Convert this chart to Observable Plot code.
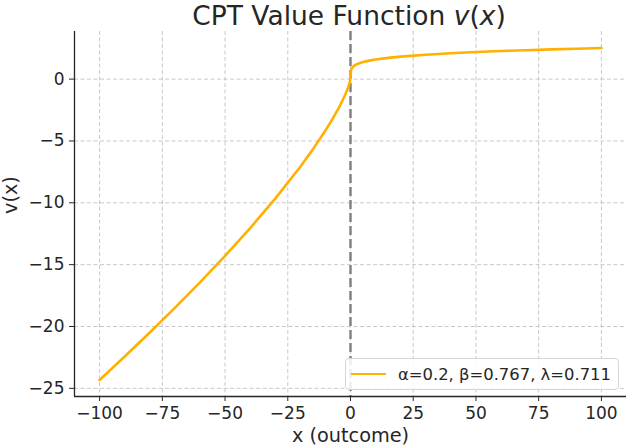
<!DOCTYPE html>
<html>
<head>
<meta charset="utf-8">
<script src="https://cdn.jsdelivr.net/npm/d3@7"></script>
<script src="https://cdn.jsdelivr.net/npm/@observablehq/plot@0.6"></script>
<style>
  html, body { margin: 0; padding: 0; background: #fff; }
  #wrap { position: relative; width: 628px; height: 448px; font-family: "DejaVu Sans", sans-serif; color: #262626; }
  #title { position: absolute; top: 3px; left: 73px; width: 552px; text-align: center; font-size: 26.5px; line-height: 26px; white-space: nowrap; }
  #legend { position: absolute; left: 345px; top: 358px; width: 274px; height: 32px; box-sizing: border-box;
            border: 1px solid #d6d6d6; border-radius: 4px; background: rgba(255,255,255,0.85);
            font-size: 16.4px; display: flex; align-items: center; white-space: nowrap; }
  #legend .sw { width: 35px; height: 0; border-top: 2.6px solid #ffb000; margin-left: 5px; margin-right: 12px; }
  svg { display: block; }
</style>
</head>
<body>
<div id="wrap">
  <div id="chart"></div>
  <div id="title">CPT Value Function <i>v</i>(<i>x</i>)</div>
  <div id="legend"><div class="sw"></div><span id="legtext"></span></div>
</div>
<script>
// Values
const xs = [-100, -90, -80, -70, -60, -50, -40, -30, -20, -15, -10, -7, -5, -3, -2, -1, -0.5, -0.25,
            0.25, 0.5, 1, 2, 3, 5, 7, 10, 15, 20, 30, 40, 50, 60, 70, 80, 90, 100];
const vs = [-24.32, -22.43, -20.49, -18.50, -16.43, -14.29, -12.05, -9.66, -7.08, -5.68, -4.16, -3.16, -2.44, -1.65, -1.21, -0.711, -0.418, -0.246,
            0.758, 0.871, 1.0, 1.149, 1.246, 1.380, 1.476, 1.585, 1.719, 1.821, 1.974, 2.091, 2.187, 2.268, 2.339, 2.402, 2.460, 2.512];
const xTicks = [-100, -75, -50, -25, 0, 25, 50, 75, 100];
const yTicks = [-25, -20, -15, -10, -5, 0];
const legendLabel = "α=0.2, β=0.767, λ=0.711";
const xLabel = "x (outcome)";
const yLabel = "v(x)";

const data = xs.map((x, i) => ({x, v: vs[i]}));
const xDom = [-110, 110];
const yDom = [-25.66, 3.85];
const fmt = d => d3.format("d")(d).replace("-", "\u2212");

const chart = Plot.plot({
  width: 628,
  height: 448,
  marginLeft: 74,
  marginRight: 2,
  marginTop: 31,
  marginBottom: 52,
  style: {fontFamily: "DejaVu Sans, sans-serif", color: "#262626", background: "transparent"},
  x: {domain: xDom},
  y: {domain: yDom},
  marks: [
    Plot.gridX(xTicks, {stroke: "#b0b0b0", strokeOpacity: 0.7, strokeDasharray: "4,2.5", strokeWidth: 1}),
    Plot.gridY(yTicks, {stroke: "#b0b0b0", strokeOpacity: 0.7, strokeDasharray: "4,2.5", strokeWidth: 1}),
    Plot.ruleX([0], {stroke: "#7f7f7f", strokeWidth: 2.4, strokeDasharray: "9,4"}),
    Plot.line(data, {x: "x", y: "v", stroke: "#ffb000", strokeWidth: 2.6}),
    Plot.ruleX([xDom[0]], {stroke: "#262626", strokeWidth: 1.3}),
    Plot.ruleY([yDom[0]], {stroke: "#262626", strokeWidth: 1.3}),
    Plot.axisX(xTicks, {tickSize: 5, tickPadding: 5, fontSize: 17, stroke: "#262626", fill: "#262626",
      tickFormat: fmt, label: null}),
    Plot.axisY(yTicks, {tickSize: 5, tickPadding: 5, fontSize: 17, stroke: "#262626", fill: "#262626",
      tickFormat: fmt, label: null}),
    Plot.text([xLabel], {frameAnchor: "bottom", dy: 45, fontSize: 19.3, fill: "#262626"}),
    Plot.text([yLabel], {frameAnchor: "left", dx: -64, rotate: -90, fontSize: 19.3, fill: "#262626"})
  ]
});
document.getElementById("chart").appendChild(chart);
document.getElementById("legtext").textContent = legendLabel;
</script>
</body>
</html>
